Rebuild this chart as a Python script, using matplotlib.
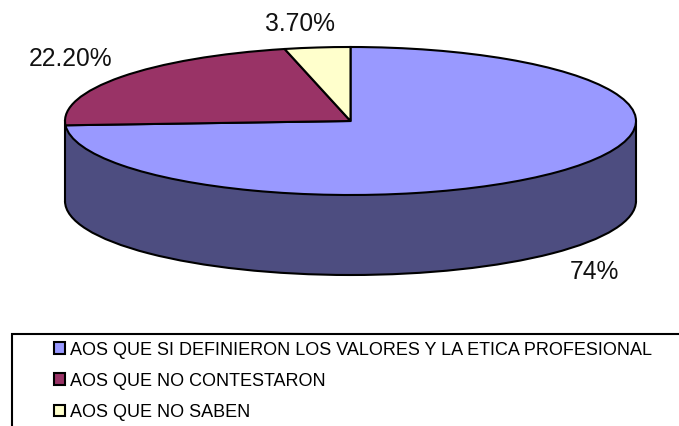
import matplotlib
matplotlib.use("Agg")
import matplotlib.pyplot as plt
from matplotlib.patches import Rectangle, Arc, Ellipse

plt.rcParams['font.family'] = ['Liberation Sans', 'DejaVu Sans']

# datos
categorias = ['AOS QUE SI DEFINIERON LOS VALORES Y LA ETICA PROFESIONAL',
              'AOS QUE NO CONTESTARON',
              'AOS QUE NO SABEN']
valores = [74, 22.2, 3.7]
etiquetas = ['74%', '22.20%', '3.70%']
colores = ['#9999ff', '#993366', '#ffffcc']
color_lado = '#4d4d80'

W, H = 679, 426
cx, cy, rx, ry, prof = 350.5, 121, 285.5, 74, 80

fig = plt.figure(figsize=(W / 100, H / 100), dpi=100)
ax = fig.add_axes([0, 0, 1, 1])

# parte de abajo del cilindro
d = prof / ry
ax.add_patch(Ellipse((0, -d), 2, 2, facecolor=color_lado, edgecolor='none', zorder=2))
ax.add_patch(Rectangle((-1, -d), 2, d, facecolor=color_lado, edgecolor='none', zorder=2))
ax.add_patch(Arc((0, -d), 2, 2, theta1=180, theta2=360, color='black', lw=1.5, zorder=2))
ax.plot([-1, -1], [0, -d], color='black', lw=1.5, zorder=2)
ax.plot([1, 1], [0, -d], color='black', lw=1.5, zorder=2)

# cara superior
wedges, _ = ax.pie(valores, colors=colores, startangle=90, counterclock=False,
                   wedgeprops={'edgecolor': 'black', 'linewidth': 1.5, 'zorder': 3}, frame=True)

ax.set_aspect('auto')
ax.set_xlim(-cx / rx, (W - cx) / rx)
ax.set_ylim((cy - H) / ry, cy / ry)
ax.axis('off')

# etiquetas de porcentaje
pos_etiquetas = [(594, 272), (71, 59), (300, 24)]
for txt, (px, py) in zip(etiquetas, pos_etiquetas):
    fig.text(px / W, 1 - py / H, txt, fontsize=17.7, ha='center', va='center', color='#111111')

# marco de la leyenda, cortado por el borde de la imagen
fig.add_artist(Rectangle((12 / W, -0.1), 1, 1.1 - 334 / H, transform=fig.transFigure,
                         facecolor='none', edgecolor='black', linewidth=1.5))

leg = fig.legend(wedges, categorias, loc='upper left', bbox_to_anchor=(50 / W, 1 - 338 / H),
                 frameon=False, fontsize=13, handlelength=0.62, handleheight=0.62,
                 handletextpad=0.28, labelspacing=0.78, borderaxespad=0, borderpad=0.2)

plt.savefig('out.png', dpi=100)
